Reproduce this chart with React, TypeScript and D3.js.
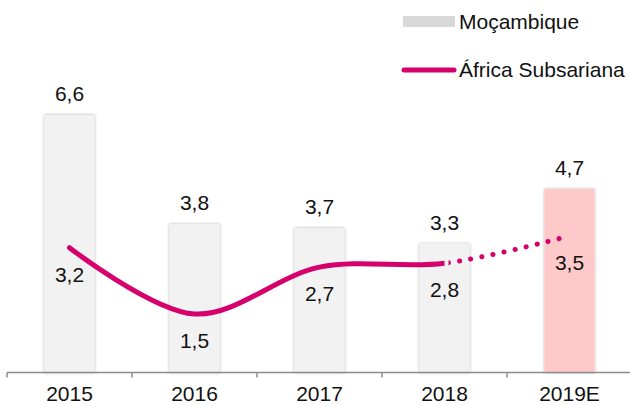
import React, { useEffect, useRef } from "react";
import * as d3 from "d3";

// growth of real GDP (%)
const years = ["2015", "2016", "2017", "2018", "2019E"];
const mozambique = [6.6, 3.8, 3.7, 3.3, 4.7];
const subSaharan = [3.2, 1.5, 2.7, 2.8, 3.5];
const seriesNames = ["Moçambique", "África Subsariana"];

const fmt = (v: number) => v.toFixed(1).replace(".", ",");

export default function App() {
  const ref = useRef<SVGSVGElement>(null);

  useEffect(() => {
    const width = 630;
    const height = 406;
    const baseY = 372.5;
    const pink = "#d5006c";
    const font = "'Liberation Sans', Arial, sans-serif";
    const fs = "21px";

    const svg = d3.select(ref.current).attr("width", width).attr("height", height);
    svg.selectAll("*").remove();

    const x = d3.scaleBand<string>().domain(years).range([7, 632]).padding(0);
    const y = d3.scaleLinear().domain([0, 6.6]).range([baseY, 115]);
    const barW = x.bandwidth() * 0.4;
    const cx = (d: string) => (x(d) ?? 0) + x.bandwidth() / 2;

    const defs = svg.append("defs");
    const shadow = defs.append("filter").attr("id", "barShadow")
      .attr("x", "-30%").attr("y", "-10%").attr("width", "160%").attr("height", "120%");
    shadow.append("feDropShadow").attr("dx", 0).attr("dy", 0).attr("stdDeviation", 1.8)
      .attr("flood-color", "#000").attr("flood-opacity", 0.35);

    // bars
    svg.append("g").selectAll("rect").data(years).join("rect")
      .attr("x", d => cx(d) - barW / 2)
      .attr("width", barW)
      .attr("y", (d, i) => y(mozambique[i]))
      .attr("height", (d, i) => baseY - y(mozambique[i]))
      .attr("fill", (d, i) => (i === years.length - 1 ? "#ffc9c9" : "#f2f2f2"))
      .attr("filter", "url(#barShadow)");

    svg.append("g").selectAll("text").data(years).join("text")
      .attr("x", d => cx(d))
      .attr("y", (d, i) => y(mozambique[i]) - 14)
      .attr("text-anchor", "middle")
      .style("font-family", font).style("font-size", fs).attr("fill", "#111")
      .text((d, i) => fmt(mozambique[i]));

    // x axis
    const axis = svg.append("g");
    axis.append("line").attr("x1", 7).attr("x2", 632).attr("y1", baseY).attr("y2", baseY)
      .attr("stroke", "#8c8c8c").attr("stroke-width", 1.5);
    axis.selectAll(".tick").data(years).join("line").attr("class", "tick")
      .attr("x1", d => (x(d) ?? 0)).attr("x2", d => (x(d) ?? 0))
      .attr("y1", baseY).attr("y2", baseY + 5)
      .attr("stroke", "#8c8c8c").attr("stroke-width", 1.5);
    axis.selectAll("text").data(years).join("text")
      .attr("x", d => cx(d)).attr("y", 401)
      .attr("text-anchor", "middle")
      .style("font-family", font).style("font-size", fs).attr("fill", "#111")
      .text(d => d);

    // line, solid up to 2018 then dotted
    const pts: [number, number][] = years.map((d, i) => [cx(d), y(subSaharan[i])]);
    const lineGen = d3.line().curve(d3.curveCatmullRom.alpha(0.5));
    const splitX = cx(years[3]);
    defs.append("clipPath").attr("id", "clipSolid").append("rect")
      .attr("x", 0).attr("y", 0).attr("width", splitX).attr("height", height);
    defs.append("clipPath").attr("id", "clipDots").append("rect")
      .attr("x", splitX + 4).attr("y", 0).attr("width", width - splitX).attr("height", height);

    svg.append("path").attr("d", lineGen(pts)).attr("fill", "none")
      .attr("stroke", pink).attr("stroke-width", 5).attr("stroke-linecap", "round")
      .attr("clip-path", "url(#clipSolid)");
    svg.append("path").attr("d", lineGen(pts)).attr("fill", "none")
      .attr("stroke", pink).attr("stroke-width", 5).attr("stroke-linecap", "round")
      .attr("stroke-dasharray", "0.1 11.2")
      .attr("clip-path", "url(#clipDots)");

    svg.append("g").selectAll("text").data(years).join("text")
      .attr("x", d => cx(d))
      .attr("y", (d, i) => y(subSaharan[i]) + 34)
      .attr("text-anchor", "middle")
      .style("font-family", font).style("font-size", fs).attr("fill", "#111")
      .text((d, i) => fmt(subSaharan[i]));

    // legend
    const lg = svg.append("g");
    lg.append("rect").attr("x", 403).attr("y", 16).attr("width", 52).attr("height", 11).attr("fill", "#d9d9d9");
    lg.append("line").attr("x1", 404).attr("x2", 454).attr("y1", 70).attr("y2", 70)
      .attr("stroke", pink).attr("stroke-width", 5).attr("stroke-linecap", "round");
    lg.selectAll("text").data(seriesNames).join("text")
      .attr("x", 459).attr("y", (d, i) => (i === 0 ? 29 : 77))
      .style("font-family", font).style("font-size", fs).attr("fill", "#111")
      .text(d => d);
  }, []);

  return <svg ref={ref} style={{ position: "absolute", left: 0, top: 0 }} />;
}
